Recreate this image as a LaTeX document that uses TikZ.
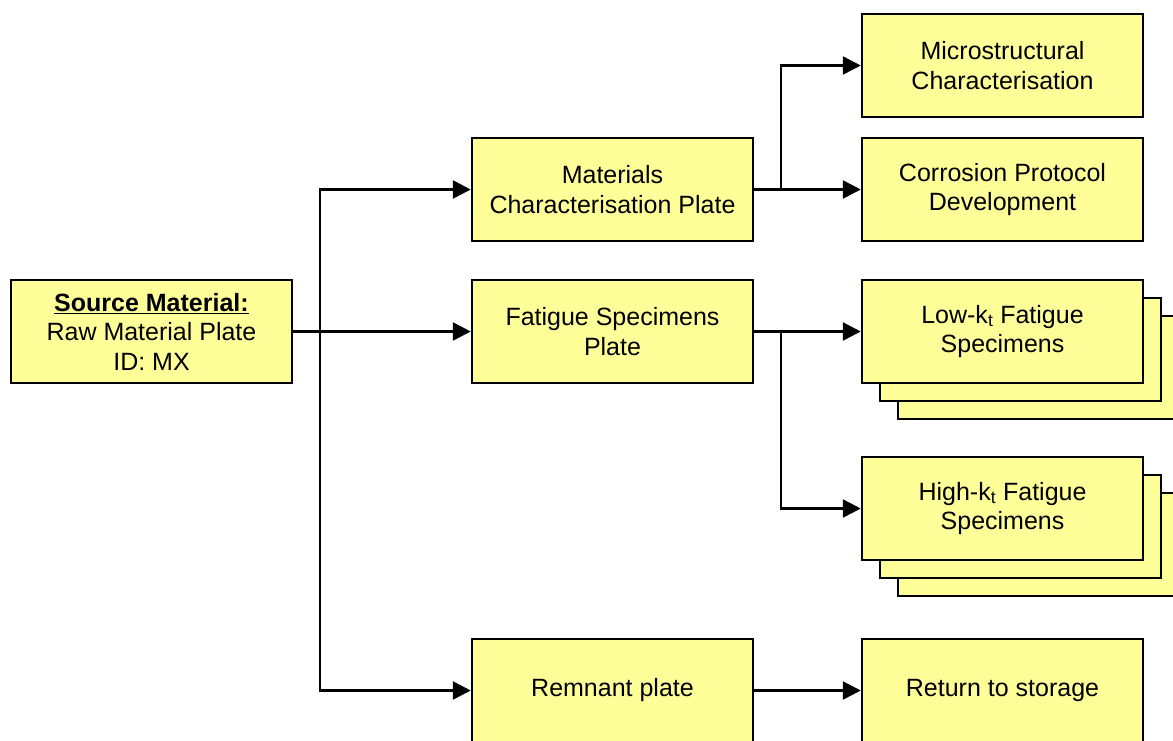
\documentclass[tikz,border=0pt]{standalone}
\usepackage{fontspec}
\setmainfont{Liberation Sans}
\usetikzlibrary{arrows.meta}
\definecolor{boxfill}{HTML}{FFFF99}
\tikzset{
  box/.style={draw=black, fill=boxfill, line width=2.5pt, minimum width=281pt, minimum height=103pt,
    align=center, inner sep=0pt, font=\fontsize{25}{29.5}\selectfont},
  conn/.style={line width=2.6pt, line join=miter, -{Triangle[length=18pt,width=18pt]}},
  plain/.style={line width=2.6pt}
}
\begin{document}
\begin{tikzpicture}[x=1pt,y=-1pt]
\useasboundingbox (0,0) rectangle (1173,740);
\clip (0,0) rectangle (1173,740);
% nodes
\node[box] (src) at (151.5,331.5) {\underline{\textbf{Source Material:}}\\Raw Material Plate\\ID: MX};
\node[box] (mat) at (612.5,189.5) {Materials\\Characterisation Plate};
\node[box] (fat) at (612.5,331.5) {Fatigue Specimens\\Plate};
\node[box] (rem) at (612.5,690.5) {Remnant plate};
\node[box] (mic) at (1002.5,65.5) {Microstructural\\Characterisation};
\node[box] (cor) at (1002.5,189.5) {Corrosion Protocol\\Development};
\node[box] (lowC) at (1038.5,367.5) {};
\node[box] (lowB) at (1020.5,349.5) {};
\node[box] (low) at (1002.5,331.5) {Low-k\textsubscript{t} Fatigue\\Specimens};
\node[box] (highC) at (1038.5,544.5) {};
\node[box] (highB) at (1020.5,526.5) {};
\node[box] (high) at (1002.5,508.5) {High-k\textsubscript{t} Fatigue\\Specimens};
\node[box] (ret) at (1002.5,690.5) {Return to storage};
% junctions
\coordinate (j1) at (320,331.5);
\coordinate (j2) at (781,189.5);
\coordinate (j3) at (781,331.5);
% connectors
\draw[conn] (src.east) -- (fat.west);
\draw[conn] (j1) |- (mat.west);
\draw[conn] (j1) |- (rem.west);
\draw[conn] (mat.east) -- (cor.west);
\draw[conn] (j2) |- (mic.west);
\draw[conn] (fat.east) -- (low.west);
\draw[conn] (j3) |- (high.west);
\draw[conn] (rem.east) -- (ret.west);
\end{tikzpicture}
\end{document}
